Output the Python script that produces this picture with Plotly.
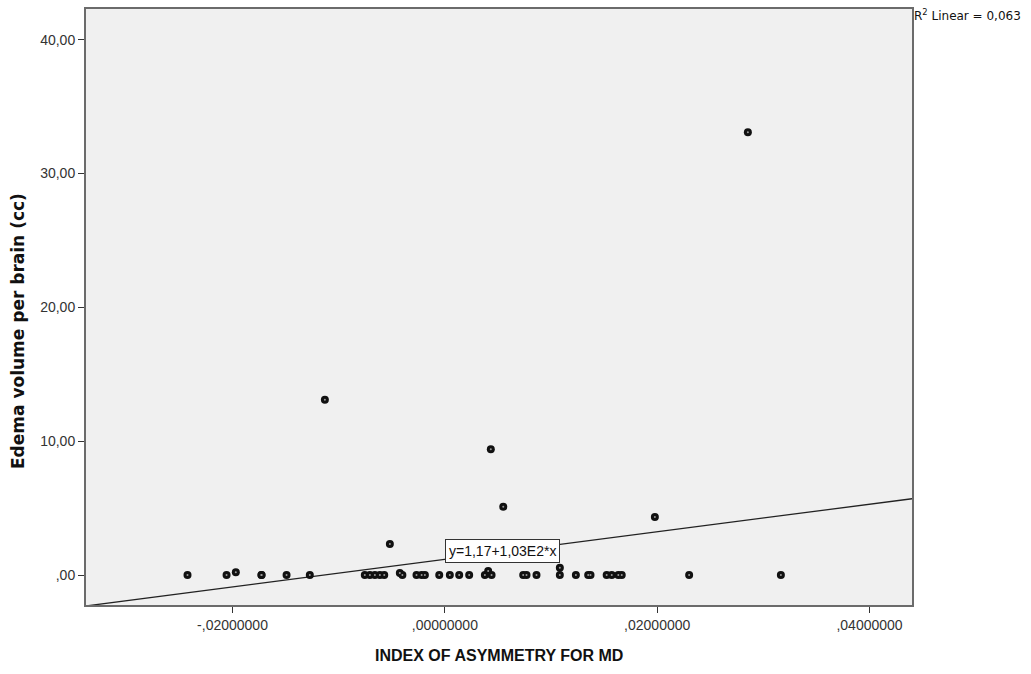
import plotly.graph_objects as go

# ---- data ----
index_md = [-0.02424, -0.02056, -0.01969, -0.01727, -0.01727, -0.01491, -0.01272, -0.01130,
            -0.00754, -0.00706, -0.00659, -0.00612, -0.00571, -0.00518, -0.00424, -0.00400,
            -0.00267, -0.00219, -0.00188, -0.00053, 0.00047, 0.00135, 0.00229, 0.00377,
            0.00408, 0.00440, 0.00433, 0.00550, 0.00738, 0.00769, 0.00863, 0.01083,
            0.01083, 0.01234, 0.01350, 0.01372, 0.01524, 0.01572, 0.01634, 0.01666,
            0.01978, 0.02301, 0.02854, 0.03165]
edema_cc = [0, 0, 0.2, 0, 0, 0, 0, 13.1,
            0, 0, 0, 0, 0, 2.31, 0.15, 0,
            0, 0, 0, 0, 0, 0, 0, 0,
            0.3, 0, 9.4, 5.1, 0, 0, 0, 0,
            0.55, 0, 0, 0, 0, 0, 0, 0,
            4.34, 0, 33.08, 0]

fit_intercept = 1.17
fit_slope = 103.0
r2_text = "R<sup>2</sup> Linear = 0,063"
eq_text = "y=1,17+1,03E2*x"

x_range = [-0.0338, 0.0440]
y_range = [-2.24, 42.3]
x_tickvals = [-0.02, 0.0, 0.02, 0.04]
x_ticktext = ["-,02000000", ",00000000", ",02000000", ",04000000"]
y_tickvals = [0, 10, 20, 30, 40]
y_ticktext = [",00", "10,00", "20,00", "30,00", "40,00"]

fit_x = x_range
fit_y = [fit_intercept + fit_slope * v for v in fit_x]

fig = go.Figure()
fig.add_trace(go.Scatter(x=fit_x, y=fit_y, mode="lines",
                         line=dict(color="#222", width=1.3), hoverinfo="skip"))
fig.add_trace(go.Scatter(x=index_md, y=edema_cc, mode="markers",
                         marker=dict(symbol="circle", size=8, color="#111",
                                     line=dict(width=0))))
fig.add_trace(go.Scatter(x=index_md, y=edema_cc, mode="markers",
                         marker=dict(symbol="circle", size=2, color="#999",
                                     line=dict(width=0)), hoverinfo="skip"))

eq_x = 0.0
eq_y = fit_intercept + fit_slope * 0.0058
fig.add_annotation(x=eq_x, y=eq_y, xref="x", yref="y", text=eq_text, showarrow=False,
                   xanchor="left", yanchor="middle", bgcolor="white",
                   bordercolor="#333", borderwidth=1, borderpad=3,
                   font=dict(family="Liberation Sans, Arial", size=14, color="#111"))

fig.add_annotation(x=1.0, y=1.0, xref="paper", yref="paper", text=r2_text, showarrow=False,
                   xanchor="left", yanchor="top", xshift=0, yshift=4,
                   font=dict(family="DejaVu Sans", size=12, color="#111"))

fig.add_annotation(x=0.5, y=0, xref="paper", yref="paper", text="<b>INDEX OF ASYMMETRY FOR MD</b>",
                   showarrow=False, xanchor="center", yanchor="middle", yshift=-50,
                   font=dict(family="Liberation Sans, Arial", size=16, color="#111"))
fig.add_annotation(x=0, y=0.5, xref="paper", yref="paper", text="<b>Edema volume per brain (cc)</b>",
                   showarrow=False, textangle=-90, xanchor="center", yanchor="middle",
                   xshift=-68, yshift=-24,
                   font=dict(family="DejaVu Sans", size=17, color="#111"))

axis_common = dict(showline=True, linecolor="#6b6b6b", linewidth=2, mirror=True,
                   showgrid=False, zeroline=False, ticks="outside", ticklen=6,
                   tickcolor="#333", tickwidth=1,
                   tickfont=dict(family="Liberation Sans, Arial", size=14, color="#333"))

fig.update_xaxes(range=x_range, tickvals=x_tickvals, ticktext=x_ticktext, **axis_common)
fig.update_yaxes(range=y_range, tickvals=y_tickvals, ticktext=y_ticktext, **axis_common)

fig.update_layout(width=1031, height=674, showlegend=False,
                  margin=dict(l=86, r=119, t=7, b=69),
                  paper_bgcolor="white", plot_bgcolor="#f0f0f0")

fig.write_html("out.html")
